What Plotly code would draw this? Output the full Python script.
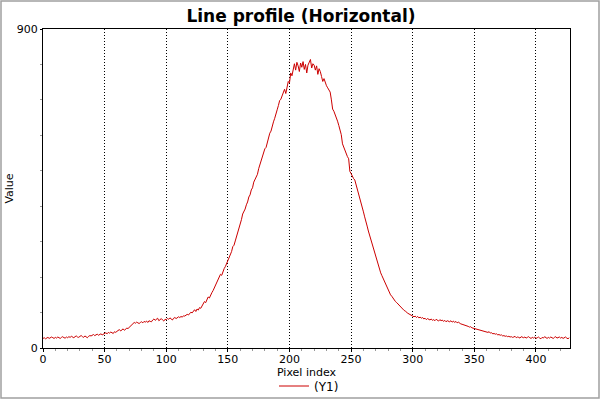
import plotly.graph_objects as go

# horizontal line profile, one value per pixel index
profile = [
    27, 29, 26, 28, 30, 27, 28, 31, 29, 27,
    30, 28, 31, 29, 27, 30, 32, 29, 28, 31,
    29, 32, 30, 33, 31, 29, 32, 34, 31, 30,
    33, 35, 32, 30, 34, 31, 29, 33, 35, 34,
    36, 38, 35, 37, 39, 36, 38, 40, 37, 39,
    41, 43, 40, 44, 42, 45, 43, 41, 46, 44,
    47, 49, 52, 48, 51, 54, 50, 53, 56, 55,
    58, 61, 64, 68, 72, 70, 73, 71, 69, 72,
    74, 71, 75, 73, 76, 72, 77, 75, 74, 79,
    82, 78, 81, 84, 77, 80, 83, 79, 76, 81,
    80, 83, 81, 85, 82, 79, 84, 86, 83, 85,
    88, 86, 89, 87, 91, 90, 92, 95, 93, 98,
    101, 99, 104, 108, 103, 110, 107, 114, 112, 118,
    125, 131, 128, 138, 144, 141, 150, 156, 162, 170,
    178, 186, 194, 200, 208, 205, 216, 224, 230, 238,
    248, 256, 264, 272, 286, 290, 302, 314, 322, 336,
    348, 362, 378, 384, 392, 404, 412, 426, 432, 446,
    452, 468, 474, 484, 490, 506, 518, 530, 536, 548,
    562, 566, 582, 594, 606, 612, 630, 638, 648, 664,
    672, 684, 698, 702, 710, 722, 730, 718, 742, 752,
    748, 776, 768, 790, 802, 784, 806, 796, 780, 804,
    792, 808, 786, 800, 776, 798, 806, 814, 790, 802,
    798, 784, 796, 772, 788, 780, 766, 752, 760, 746,
    740, 734, 728, 722, 700, 674, 668, 660, 652, 640,
    628, 616, 602, 576, 566, 556, 548, 540, 534, 498,
    492, 484, 478, 474, 462, 448, 436, 420, 410, 398,
    384, 370, 352, 344, 330, 318, 306, 294, 282, 268,
    256, 246, 234, 222, 212, 204, 196, 186, 178, 172,
    164, 156, 150, 146, 140, 136, 131, 128, 124, 120,
    116, 112, 110, 106, 104, 100, 98, 96, 94, 93,
    92, 88, 90, 86, 89, 85, 87, 84, 86, 82,
    84, 80, 83, 81, 79, 82, 78, 80, 77, 81,
    78, 76, 80, 77, 79, 75, 78, 74, 77, 76,
    74, 77, 73, 76, 72, 75, 71, 73, 70, 68,
    67, 66, 64, 65, 62, 61, 59, 60, 57, 56,
    55, 54, 52, 53, 50, 51, 48, 49, 46, 47,
    45, 44, 46, 42, 43, 40, 41, 39, 40, 37,
    38, 36, 37, 34, 35, 33, 34, 32, 33, 31,
    32, 30, 31, 33, 29, 31, 30, 28, 32, 30,
    29, 31, 28, 30, 32, 29, 27, 30, 28, 31,
    27, 29, 31, 28, 26, 30, 28, 32, 29, 27,
    30, 28, 31, 29, 27, 30, 32, 28, 29, 31,
    28, 30, 27, 29, 31, 28, 26, 29,
]
pixel_index = list(range(len(profile)))

W, H = 600, 400
ml, mr, mt, mb = 43, 30, 29, 52
pw, ph = W - ml - mr, H - mt - mb

fig = go.Figure()
fig.add_trace(go.Scatter(
    x=pixel_index, y=profile, mode="lines", name="(Y1)",
    line=dict(color="#cc0000", width=1),
))

fig.update_layout(
    width=W, height=H,
    margin=dict(l=ml, r=mr, t=mt, b=mb, autoexpand=False),
    paper_bgcolor="white", plot_bgcolor="white",
    font=dict(family="DejaVu Sans", size=11, color="black"),
    title=dict(text="<b>Line profile (Horizontal)</b>", x=(301 - ml) / pw, xref="paper",
               xanchor="center", y=1 - 16 / H, yanchor="middle",
               font=dict(family="DejaVu Sans", size=17, color="black")),
    showlegend=True,
    legend=dict(orientation="h", x=(309 - ml) / pw, xanchor="center",
                y=-(386 - mt - ph) / ph, yanchor="middle",
                font=dict(size=12), bgcolor="rgba(0,0,0,0)"),
)

fig.update_xaxes(
    range=[0, 427.6], tickmode="linear", tick0=0, dtick=50,
    ticks="outside", ticklen=3, tickcolor="black", ticklabelstandoff=-2,
    showline=True, linecolor="black", linewidth=1, mirror=True,
    showgrid=True, gridcolor="black", griddash="1px,2px", gridwidth=1,
    zeroline=False, automargin=False,
    minor=dict(dtick=10, ticks="outside", ticklen=2, tickcolor="#999999", showgrid=False),
    title=dict(text="Pixel index", standoff=0, font=dict(size=11)),
)
fig.update_yaxes(
    range=[0, 900], tickmode="linear", tick0=0, dtick=900,
    ticks="outside", ticklen=2, tickcolor="black",
    showline=True, linecolor="black", linewidth=1, mirror=True,
    showgrid=False, zeroline=False, automargin=False,
    minor=dict(dtick=100, ticks="outside", ticklen=2, tickcolor="#999999", showgrid=False),
    title=dict(text="Value", standoff=0, font=dict(size=11)),
)

# light grey frame round the whole picture
fig.add_shape(type="rect", xref="paper", yref="paper",
              x0=-(ml - 1) / pw, x1=1 + (mr - 1) / pw, y0=-(mb - 2) / ph, y1=1 + (mt - 1) / ph,
              line=dict(color="#a0a0a0", width=1.5), layer="below")

# drop the page's default body margin so the figure sits at the window corner
fig.write_html("out.html", config={"displayModeBar": False},
               post_script="document.body.style.margin='0';")
